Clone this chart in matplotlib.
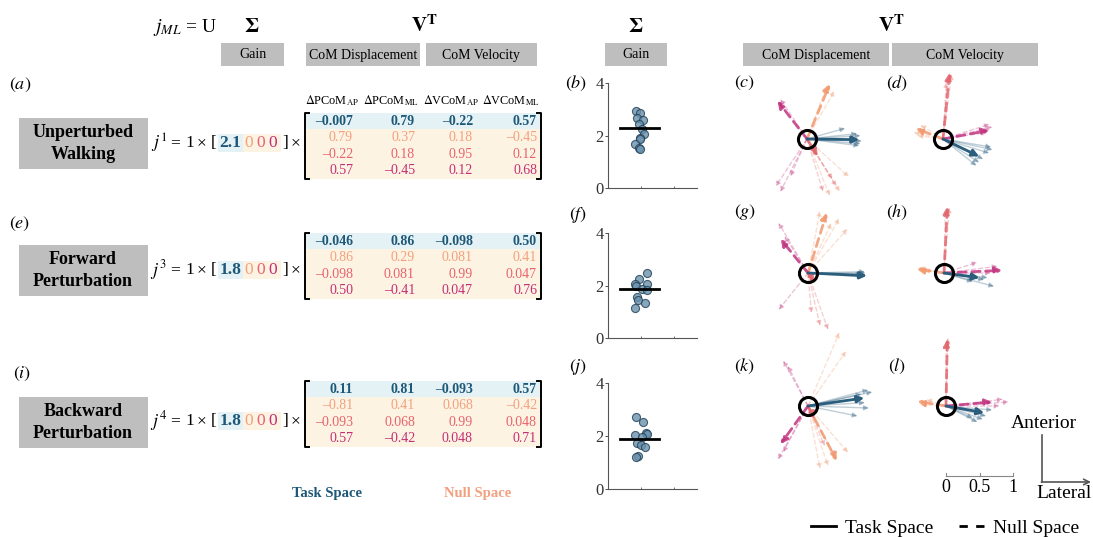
import numpy as np
import matplotlib.pyplot as plt
from matplotlib.patches import Rectangle
from matplotlib.lines import Line2D

plt.rcParams['font.family'] = ['Liberation Serif', 'DejaVu Serif']
plt.rcParams['mathtext.fontset'] = 'stix'

W, H = 1093, 537

# ---- data ----
conditions = ['Unperturbed\nWalking', 'Forward\nPerturbation', 'Backward\nPerturbation']
eq_index = ['1', '3', '4']
gains = ['2.1', '1.8', '1.8']
col_labels = [r'$\Delta$PCoM$_{\rm AP}$', r'$\Delta$PCoM$_{\rm ML}$',
              r'$\Delta$VCoM$_{\rm AP}$', r'$\Delta$VCoM$_{\rm ML}$']
vt_unperturbed = [['–0.007', '0.79', '–0.22', '0.57'],
                  ['0.79', '0.37', '0.18', '–0.45'],
                  ['–0.22', '0.18', '0.95', '0.12'],
                  ['0.57', '–0.45', '0.12', '0.68']]
vt_forward = [['–0.046', '0.86', '–0.098', '0.50'],
              ['0.86', '0.29', '0.081', '0.41'],
              ['–0.098', '0.081', '0.99', '0.047'],
              ['0.50', '–0.41', '0.047', '0.76']]
vt_backward = [['0.11', '0.81', '–0.093', '0.57'],
               ['–0.81', '0.41', '0.068', '–0.42'],
               ['–0.093', '0.068', '0.99', '0.048'],
               ['0.57', '–0.42', '0.048', '0.71']]

# subject gains (scatter) and their horizontal spread
gain_b = [2.93, 2.86, 2.67, 2.58, 2.43, 2.26, 2.07, 1.90, 1.85, 1.66, 1.54, 1.50]
jit_b = [-0.15, -0.02, -0.12, 0.07, -0.06, 0.03, 0.10, -0.02, -0.04, -0.18, -0.05, -0.02]
gain_f = [2.48, 2.26, 2.04, 2.07, 1.97, 1.85, 1.82, 1.56, 1.46, 1.33, 1.14]
jit_f = [0.17, -0.07, -0.18, 0.17, -0.15, 0.02, 0.18, -0.12, -0.10, 0.12, -0.18]
gain_j = [2.70, 2.53, 2.04, 2.10, 2.08, 1.95, 1.75, 1.65, 1.58, 1.25, 1.20]
jit_j = [-0.15, 0.07, -0.18, 0.15, 0.17, 0.02, -0.12, 0.00, 0.12, -0.08, -0.14]
gain_means = [2.27, 1.85, 1.89]

# arrow panels: (ML, AP) per component [task, null1, null2, null3]
c_mean = [(0.78, -0.01), (0.34, 0.82), (0.16, -0.26), (-0.44, 0.57)]
c_subj = [(0, 0.80, 0.05), (0, 0.82, -0.03), (0, 0.78, -0.10), (0, 0.75, 0.08), (0, 0.57, 0.16), (0, 0.80, -0.07),
          (1, 0.41, 0.72), (1, 0.34, -0.85), (1, 0.49, -0.79), (1, 0.63, -0.57), (1, 0.30, 0.80),
          (2, 0.44, -0.71), (2, 0.24, -0.79), (2, 0.38, -0.60),
          (3, -0.47, -0.71), (3, -0.40, -0.79), (3, -0.25, -0.56), (3, -0.40, 0.60)]
d_mean = [(0.54, -0.26), (-0.41, 0.16), (0.10, 0.99), (0.69, 0.13)]
d_subj = [(0, 0.74, -0.16), (0, 0.69, -0.21), (0, 0.54, -0.35), (0, 0.50, -0.40), (0, 0.72, -0.12), (0, 0.60, -0.30),
          (1, -0.34, 0.21), (1, -0.44, 0.10), (1, -0.38, 0.05),
          (2, 0.07, 0.94), (2, 0.13, 0.97), (2, 0.05, 0.85),
          (3, 0.74, 0.18), (3, 0.66, 0.10), (3, 0.70, 0.22)]
g_mean = [(0.88, -0.04), (0.28, 0.90), (0.10, -0.15), (-0.41, 0.51)]
g_subj = [(0, 0.85, 0.02), (0, 0.83, -0.06), (0, 0.86, 0.00), (0, 0.80, -0.02),
          (1, 0.47, 0.82), (1, 0.59, 0.66), (1, 0.18, 0.93), (1, 0.35, 0.75),
          (2, 0.18, -0.79), (2, 0.30, -0.85), (2, 0.05, -0.60),
          (3, -0.44, 0.75), (3, -0.44, -0.55), (3, -0.35, 0.55)]
h_mean = [(0.53, -0.07), (-0.41, 0.06), (0.05, 0.99), (0.87, 0.04)]
h_subj = [(0, 0.65, -0.07), (0, 0.75, -0.20), (0, 0.43, -0.13), (0, 0.60, -0.10),
          (1, -0.38, 0.08), (1, -0.30, 0.04),
          (2, 0.08, 0.98), (2, 0.02, 0.95),
          (3, 0.50, 0.16), (3, 0.80, 0.10), (3, 0.70, 0.00)]
k_mean = [(0.84, 0.12), (0.43, -0.82), (0.10, -0.20), (-0.41, -0.57)]
k_subj = [(0, 0.96, 0.21), (0, 0.91, -0.03), (0, 0.74, -0.15), (0, 0.90, 0.24), (0, 0.85, 0.05), (0, 0.80, 0.18),
          (1, 0.18, -0.94), (1, 0.47, 1.10), (1, 0.57, 0.82), (1, 0.60, -0.70), (1, 0.30, -0.90),
          (2, 0.25, -0.60), (2, 0.40, -0.75),
          (3, -0.37, -0.69), (3, -0.37, 0.68), (3, -0.30, 0.60), (3, -0.45, -0.80)]
l_mean = [(0.57, -0.10), (-0.43, 0.07), (0.02, 1.00), (0.69, 0.06)]
l_subj = [(0, 0.47, -0.24), (0, 0.69, -0.06), (0, 0.40, -0.18), (0, 0.60, -0.15), (0, 0.55, -0.20),
          (1, -0.38, 0.02), (1, -0.30, 0.10),
          (2, 0.03, 1.02), (2, 0.00, 0.95),
          (3, 0.94, 0.06), (3, 0.80, 0.00), (3, 0.85, 0.10)]
scale_ticks = [0, 0.5, 1]

# ---- style ----
BLUE = '#1d5878'
COMP_COLORS = ['#2b5d7d', '#f2996f', '#e2676e', '#c23580']
ROW_TEXT = [BLUE, '#f4a07e', '#e8636c', '#c42e74']
BG_BLUE = '#e5f2f5'
BG_ORANGE = '#fdf3e2'
GRAY = '#bebebe'
PX = 67.0  # pixels per unit in arrow panels


def px_axes(x0, y0, w, h):
    return fig.add_axes([x0 / W, 1 - (y0 + h) / H, w / W, h / H])


fig = plt.figure(figsize=(W / 100, H / 100), dpi=100)
ax0 = px_axes(0, 0, W, H)
ax0.set_xlim(0, W)
ax0.set_ylim(H, 0)
ax0.axis('off')

# header
ax0.text(185, 28, r'$j_{ML}$ = U', fontsize=14, ha='center', va='center')
for x in (252, 636):
    ax0.text(x, 27, r'$\mathbf{\Sigma}$', fontsize=15, ha='center', va='center')
for x in (424, 891):
    ax0.text(x, 26, r'$\mathbf{V}^{\mathbf{T}}$', fontsize=15, ha='center', va='center')
for x0, x1, lab in [(221, 284, 'Gain'), (306, 420, 'CoM Displacement'), (426, 537, 'CoM Velocity'),
                    (605, 667, 'Gain'), (743, 889, 'CoM Displacement'), (892, 1038, 'CoM Velocity')]:
    ax0.add_patch(Rectangle((x0, 43), x1 - x0, 23, color=GRAY, lw=0))
    ax0.text((x0 + x1) / 2, 55, lab, fontsize=10, ha='center', va='center')

# column labels
for x, lab in zip([332, 391, 451, 511], col_labels):
    ax0.text(x, 101, lab, fontsize=8.8, ha='center', va='center')

# rows of equations
matrices = [vt_unperturbed, vt_forward, vt_backward]
box_tops = [118, 245, 397]
mat_tops = [113, 233, 381]
eq_ys = [143, 270, 421]
col_right = [353, 415, 473, 537]
for r in range(3):
    bt = box_tops[r]
    ax0.add_patch(Rectangle((19, bt), 129, 51, color=GRAY, lw=0))
    ax0.text(83, bt + 25.5, conditions[r], fontsize=13, fontweight='bold', ha='center', va='center',
             linespacing=1.45)
    ey = eq_ys[r]
    ax0.add_patch(Rectangle((218, ey - 9), 25, 18, color=BG_BLUE, lw=0))
    ax0.add_patch(Rectangle((243, ey - 9), 38, 18, color=BG_ORANGE, lw=0))
    ax0.text(167, ey, r'$j^{%s}$' % eq_index[r], fontsize=13, ha='right', va='center')
    for x, tok in [(175, '='), (190, '1'), (202, '×'), (214, '['), (285, ']'), (296, '×')]:
        ax0.text(x, ey, tok, fontsize=12.5, ha='center', va='center')
    ax0.text(230.5, ey, gains[r], fontsize=12.5, fontweight='bold', color=BLUE, ha='center', va='center')
    for k, x in enumerate([249, 261, 273]):
        ax0.text(x, ey, '0', fontsize=12.5, color=ROW_TEXT[k + 1], ha='center', va='center')

    mt = mat_tops[r]
    step = 16.5
    mb = mt + 4 * step
    ax0.add_patch(Rectangle((306, mt), 234, step - 0.5, color=BG_BLUE, lw=0))
    ax0.add_patch(Rectangle((306, mt + step - 0.5), 234, 3 * step + 0.5, color=BG_ORANGE, lw=0))
    ax0.plot([309, 305, 305, 309], [mt, mt, mb, mb], color='k', lw=1.4)
    ax0.plot([537, 541, 541, 537], [mt, mt, mb, mb], color='k', lw=1.4)
    for i, row in enumerate(matrices[r]):
        for j, val in enumerate(row):
            ax0.text(col_right[j], mt + step * (i + 0.5), val, fontsize=10, ha='right', va='center',
                     color=ROW_TEXT[i], fontweight='bold' if i == 0 else 'normal')

ax0.text(327, 493, 'Task Space', fontsize=10.5, fontweight='bold', color=BLUE, ha='center', va='center')
ax0.text(478, 493, 'Null Space', fontsize=10.5, fontweight='bold', color='#f2a07e', ha='center', va='center')

# panel letters
for x, y, lab in [(20, 85, 'a'), (576, 83, 'b'), (745, 83, 'c'), (897, 83, 'd'),
                  (20, 224, 'e'), (578, 215, 'f'), (745, 212, 'g'), (897, 212, 'h'),
                  (22, 374, 'i'), (578, 367, 'j'), (745, 366, 'k'), (897, 366, 'l')]:
    ax0.text(x, y, r'$(%s)$' % lab, fontsize=13, ha='center', va='center')

# anterior / lateral axes
ax0.plot([1042, 1042], [435, 482], color='#555555', lw=1.2)
ax0.annotate('', xy=(1091, 482), xytext=(1041.4, 482),
             arrowprops=dict(arrowstyle='->', color='#555555', lw=1.2, shrinkA=0, shrinkB=0))
ax0.text(1044, 423, 'Anterior', fontsize=14, ha='center', va='center')
ax0.text(1064, 494, 'Lateral', fontsize=14, ha='center', va='center')


# scatter panels
def gain_panel(y0, y1, vals, jit, mean):
    ax = px_axes(608, y0, 89, y1 - y0)
    ax.set_facecolor('none')
    ax.scatter(1 + np.array(jit), vals, s=34, fc='#6b91ad', ec='#203f55', lw=0.8, alpha=0.8, zorder=3)
    ax.plot([0.37, 1.55], [mean, mean], color='k', lw=2, zorder=4)
    ax.set_xlim(0, 2.7)
    ax.set_ylim(0, 4)
    ax.set_yticks([0, 2, 4])
    ax.set_xticks([1, 2])
    ax.set_xticklabels([])
    ax.tick_params(axis='y', length=2, width=0.6, labelsize=12, pad=1, colors='#333333')
    ax.tick_params(axis='x', length=1.5, width=0.6, direction='in', colors='#555555')
    for s in ('top', 'right'):
        ax.spines[s].set_visible(False)
    for s in ('left', 'bottom'):
        ax.spines[s].set_color('#555555')
        ax.spines[s].set_linewidth(0.8)


gain_panel(83, 188, gain_b, jit_b, gain_means[0])
gain_panel(233, 338, gain_f, jit_f, gain_means[1])
gain_panel(383, 489, gain_j, jit_j, gain_means[2])


# arrow panels
def draw_arrow(ax, vec, comp, lw, alpha, ms):
    ls = '-' if comp == 0 else (0, (3, 2))
    ax.annotate('', xy=vec, xytext=(0, 0), annotation_clip=False,
                arrowprops=dict(arrowstyle='-|>', color=COMP_COLORS[comp], lw=lw, ls=ls, alpha=alpha,
                                shrinkA=0, shrinkB=0, mutation_scale=ms))


def arrow_panel(cx, cy, means, subj):
    half = 100
    ax = px_axes(cx - half, cy - half, 2 * half, 2 * half)
    ax.set_xlim(-half / PX, half / PX)
    ax.set_ylim(-half / PX, half / PX)
    ax.axis('off')
    for comp, ml, ap in subj:
        draw_arrow(ax, (ml, ap), comp, 1.0, 0.3, 7)
    for comp in (1, 2, 3, 0):
        draw_arrow(ax, means[comp], comp, 2.0, 0.85 if comp else 1.0, 10)
    ax.plot(0, 0, 'o', ms=13, mfc='none', mec='k', mew=2.2, zorder=10)
    return ax


arrow_panel(807, 139, c_mean, c_subj)
arrow_panel(943, 139, d_mean, d_subj)
arrow_panel(808, 273, g_mean, g_subj)
arrow_panel(944, 273, h_mean, h_subj)
arrow_panel(808, 406, k_mean, k_subj)
axl = arrow_panel(946, 406, l_mean, l_subj)

# scale bar in (l) units
yb = -(476 - 406) / PX
axl.plot([scale_ticks[0], scale_ticks[-1]], [yb, yb], color='#888888', lw=0.8)
for t in scale_ticks:
    axl.plot([t, t], [yb, yb + 0.04], color='#888888', lw=0.8)
    axl.text(t, yb - 0.17, '%g' % t, fontsize=13, ha='center', va='center')

handles = [Line2D([], [], color='k', lw=2), Line2D([], [], color='k', lw=2, ls=(0, (3, 3)))]
fig.legend(handles, ['Task Space', 'Null Space'], ncol=2, frameon=False, loc='center',
           bbox_to_anchor=(945 / W, 1 - 528 / H), fontsize=14, handlelength=1.3, columnspacing=1.3,
           handletextpad=0.45)

fig.savefig('out.png', dpi=100)
